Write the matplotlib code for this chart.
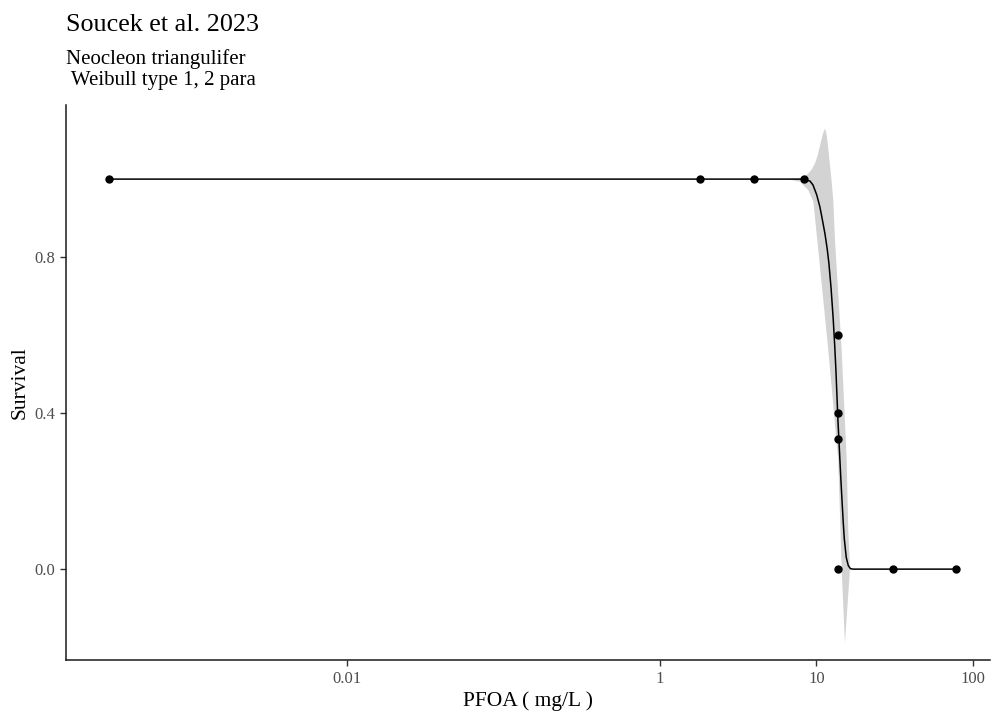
import numpy as np
import matplotlib
matplotlib.use('Agg')
import matplotlib.pyplot as plt

plt.rcParams['font.family'] = ['Liberation Serif', 'DejaVu Serif']

# observed data
conc = [0.0003, 1.8, 4.0, 8.3, 13.7, 13.7, 13.7, 13.7, 31.0, 78.0]
surv = [1.0, 1.0, 1.0, 1.0, 0.6, 0.4, 0.333, 0.0, 0.0, 0.0]

# fitted curve
fit_x = [0.0003, 8.0, 8.36, 9.09, 9.5, 10.03, 10.5, 10.8, 11.33, 11.72, 12.0, 12.4,
         12.8, 13.1, 13.33, 13.72, 14.0, 14.3, 14.5, 14.8, 15.06, 15.5, 15.97,
         16.5, 17.2, 78.0]
fit_y = [1.0, 1.0, 0.999, 0.995, 0.985, 0.96, 0.93, 0.905, 0.86, 0.82, 0.785, 0.72,
         0.64, 0.568, 0.505, 0.38, 0.31, 0.235, 0.19, 0.125, 0.078, 0.03, 0.009,
         0.001, 0.0, 0.0]

# confidence band edges
up_x = [0.0003, 6.5, 7.85, 8.31, 8.8, 9.3, 9.78, 10.2, 10.52, 11.0, 11.33, 11.6,
        11.90, 12.2, 12.51, 12.81, 13.13, 14.49, 15.60, 15.97, 16.37, 17.2, 78.0]
up_y = [1.0, 1.0, 1.002, 1.006, 1.013, 1.024, 1.040, 1.062, 1.085, 1.116, 1.130,
        1.115, 1.079, 1.035, 0.993, 0.945, 0.844, 0.562, 0.28, 0.10, 0.005, 0.0, 0.0]
lo_x = [0.0003, 6.5, 7.85, 8.86, 9.55, 10.12, 11.90, 13.78, 14.49, 15.2, 16.37,
        17.2, 78.0]
lo_y = [1.0, 1.0, 0.993, 0.972, 0.942, 0.844, 0.562, 0.28, 0.0, -0.19, 0.0,
        0.0, 0.0]

xticks = [0.01, 1, 10, 100]
xticklabels = ['0.01', '1', '10', '100']
yticks = [0.0, 0.4, 0.8]
yticklabels = ['0.0', '0.4', '0.8']

W, H = 993, 713
fig = plt.figure(figsize=(W / 100, H / 100), dpi=100)
ax = fig.add_axes([66 / W, 1 - 660 / H, (990 - 66) / W, (660 - 105) / H])
ax.set_xscale('log')

ax.fill(list(up_x) + list(lo_x[::-1]), list(up_y) + list(lo_y[::-1]),
        color='#d3d3d3', lw=0, zorder=1)
ax.plot(fit_x, fit_y, color='black', lw=1.1, zorder=2)
ax.plot(conc, surv, 'o', color='black', ms=5, zorder=3)

ax.set_xlim(10 ** -3.796, 10 ** 2.109)
ax.set_ylim(-0.233, 1.19)
ax.set_xticks(xticks)
ax.set_xticklabels(xticklabels)
ax.set_yticks(yticks)
ax.set_yticklabels(yticklabels)
ax.xaxis.set_minor_locator(matplotlib.ticker.NullLocator())

for s in ['top', 'right']:
    ax.spines[s].set_visible(False)
for s in ['left', 'bottom']:
    ax.spines[s].set_color('#1a1a1a')
    ax.spines[s].set_linewidth(1.1)
ax.tick_params(axis='both', colors='#333333', length=4, width=1.0,
               labelsize=12, labelcolor='#4d4d4d', pad=4)

ax.set_xlabel('PFOA ( mg/L )', fontsize=15.5, labelpad=3)
ax.set_ylabel('Survival', fontsize=15.5, labelpad=3)

fig.text(66 / W, 1 - 31 / H, 'Soucek et al. 2023', fontsize=18.8, va='baseline')
fig.text(66 / W, 1 - 85 / H, 'Neocleon triangulifer\n Weibull type 1, 2 para',
         fontsize=15, va='baseline', linespacing=1.12)

fig.savefig('out.png', dpi=100)
